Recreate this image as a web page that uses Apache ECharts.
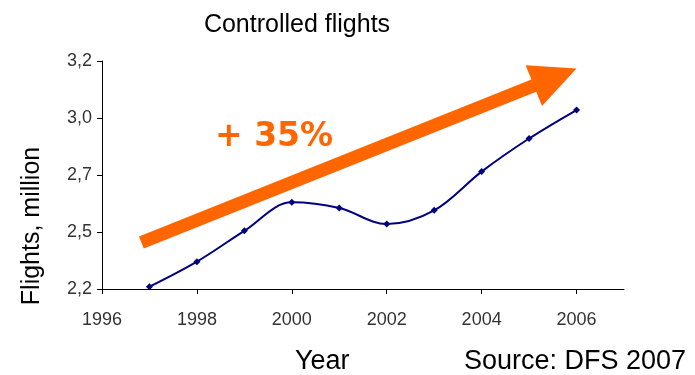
<!DOCTYPE html>
<html>
<head>
<meta charset="utf-8">
<title>Controlled flights</title>
<script src="https://cdn.jsdelivr.net/npm/echarts@6/dist/echarts.min.js"></script>
<style>
  html, body { margin: 0; padding: 0; background: #fff; }
  #chart { width: 695px; height: 375px; }
</style>
</head>
<body>
<div id="chart"></div>
<script>
// Controlled flights in Germany, millions per year
const years = [1997, 1998, 1999, 2000, 2001, 2002, 2003, 2004, 2005, 2006];
const flights = [2.21, 2.32, 2.455, 2.58, 2.555, 2.485, 2.545, 2.715, 2.86, 2.985];

// Axis ticks and their printed labels
const xTicks = [1996, 1998, 2000, 2002, 2004, 2006];
const yTickLabels = ['2,2', '2,5', '2,7', '3,0', '3,2'];

// Trend arrow: tail and tip in data units
const trendTail = [1996.83, 2.404];
const trendTip = [2006.0, 3.167];
const trendLabel = '+ 35%';

const FONT = '"Liberation Sans", Arial, sans-serif';
const ORANGE = '#FF6600';

const chart = echarts.init(document.getElementById('chart'), null, { renderer: 'canvas' });

chart.setOption({
  backgroundColor: '#ffffff',
  animation: false,
  title: {
    text: 'Controlled flights',
    left: 292,
    textAlign: 'center',
    top: 8,
    textStyle: { fontFamily: FONT, fontSize: 25, fontWeight: 'normal', color: '#000' }
  },
  grid: { left: 102, right: 71, top: 61, bottom: 86, containLabel: false },
  xAxis: {
    type: 'value',
    min: 1996,
    max: 2007,
    interval: 2,
    splitLine: { show: false },
    axisLine: { lineStyle: { color: '#000', width: 1 } },
    axisTick: { show: true, length: 5, lineStyle: { color: '#000' }, customValues: xTicks },
    axisLabel: {
      customValues: xTicks,
      margin: 22,
      fontFamily: FONT,
      fontSize: 18,
      color: '#333',
      formatter: v => String(v)
    }
  },
  yAxis: {
    type: 'value',
    min: 2.2,
    max: 3.2,
    interval: 0.25,
    splitLine: { show: false },
    axisLine: { show: true, lineStyle: { color: '#000', width: 1 } },
    axisTick: { show: true, length: 5, lineStyle: { color: '#000' } },
    axisLabel: {
      margin: 10,
      fontFamily: FONT,
      fontSize: 18,
      color: '#333',
      formatter: (v, i) => yTickLabels[i]
    }
  },
  graphic: [
    {
      // Vertical axis title
      type: 'text',
      x: 32,
      y: 226,
      rotation: Math.PI / 2,
      style: {
        text: 'Flights, million',
        font: '25px ' + FONT,
        fill: '#000',
        textAlign: 'center',
        textVerticalAlign: 'middle'
      }
    },
    {
      type: 'text',
      left: 295,
      top: 348,
      style: { text: 'Year', font: '27px ' + FONT, fill: '#000' }
    },
    {
      type: 'text',
      left: 464,
      top: 348,
      style: { text: 'Source: DFS 2007', font: '27px ' + FONT, fill: '#000' }
    }
  ],
  series: [
    {
      // Orange growth arrow drawn in axis coordinates
      type: 'custom',
      clip: false,
      silent: true,
      z: 3,
      encode: { x: [0, 2], y: [1, 3] },
      data: [[trendTail[0], trendTail[1], trendTip[0], trendTip[1]]],
      renderItem: (params, api) => {
        const s = api.coord([api.value(0), api.value(1)]);
        const t = api.coord([api.value(2), api.value(3)]);
        const dx = t[0] - s[0], dy = t[1] - s[1];
        const len = Math.sqrt(dx * dx + dy * dy);
        const ux = dx / len, uy = dy / len;
        const nx = -uy, ny = ux;
        const shaft = 6.5, head = 22, headLen = 46;
        const b = [t[0] - ux * headLen, t[1] - uy * headLen];
        const pts = [
          [s[0] + nx * shaft, s[1] + ny * shaft],
          [b[0] + nx * shaft, b[1] + ny * shaft],
          [b[0] + nx * head, b[1] + ny * head],
          [t[0], t[1]],
          [b[0] - nx * head, b[1] - ny * head],
          [b[0] - nx * shaft, b[1] - ny * shaft],
          [s[0] - nx * shaft, s[1] - ny * shaft]
        ];
        return {
          type: 'group',
          children: [
            { type: 'polygon', shape: { points: pts }, style: { fill: ORANGE } },
            {
              type: 'text',
              x: 215,
              y: 137,
              style: {
                text: trendLabel,
                font: 'bold 33px "DejaVu Sans", sans-serif',
                fill: ORANGE,
                textAlign: 'left',
                textVerticalAlign: 'middle'
              }
            }
          ]
        };
      }
    },
    {
      name: 'Controlled flights',
      type: 'line',
      z: 4,
      smooth: 0.35,
      data: years.map((y, i) => [y, flights[i]]),
      symbol: 'diamond',
      symbolSize: 7,
      lineStyle: { color: '#000080', width: 2 },
      itemStyle: { color: '#000080' }
    }
  ]
});
</script>
</body>
</html>
